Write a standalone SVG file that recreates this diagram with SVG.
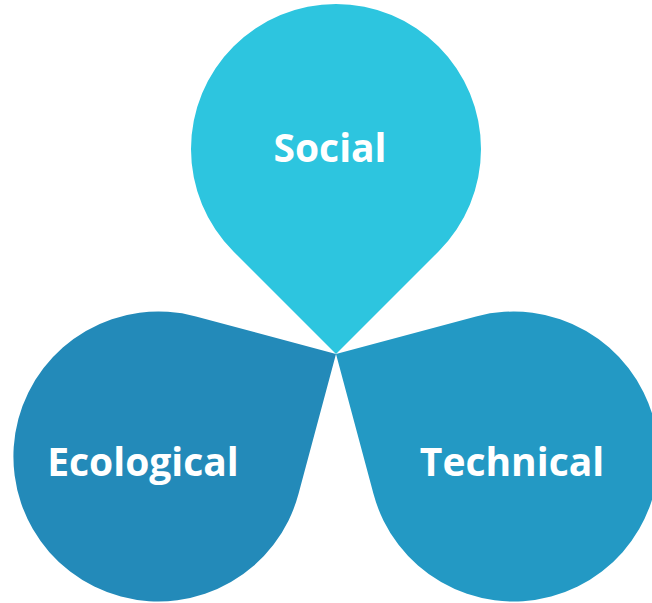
<svg xmlns="http://www.w3.org/2000/svg" width="652" height="603" viewBox="0 0 652 603">
  <defs>
    <style>
      .label { font-family: "Open Sans", "Noto Sans", "DejaVu Sans", sans-serif; font-weight: 700; font-size: 39px; fill: #FFFFFF; text-anchor: middle; }
    </style>
    <!-- teardrop: circle r=145 with a square corner, tip at the origin pointing down -->
    <path id="drop" d="M 0 0 L -102.53 -102.53 A 145 145 0 1 1 102.53 -102.53 Z"/>
  </defs>
  <rect width="652" height="603" fill="#FFFFFF"/>

  <g id="social">
    <use href="#drop" transform="translate(336 354)" fill="#2DC5DF"/>
    <text class="label" x="330" y="162">Social</text>
  </g>

  <g id="ecological">
    <use href="#drop" transform="translate(336 354) rotate(-120)" fill="#238AB9"/>
    <text class="label" x="143" y="476">Ecological</text>
  </g>

  <g id="technical">
    <use href="#drop" transform="translate(336 354) rotate(120)" fill="#2399C4"/>
    <text class="label" x="512" y="476">Technical</text>
  </g>

  <g id="connectors"/>
</svg>
